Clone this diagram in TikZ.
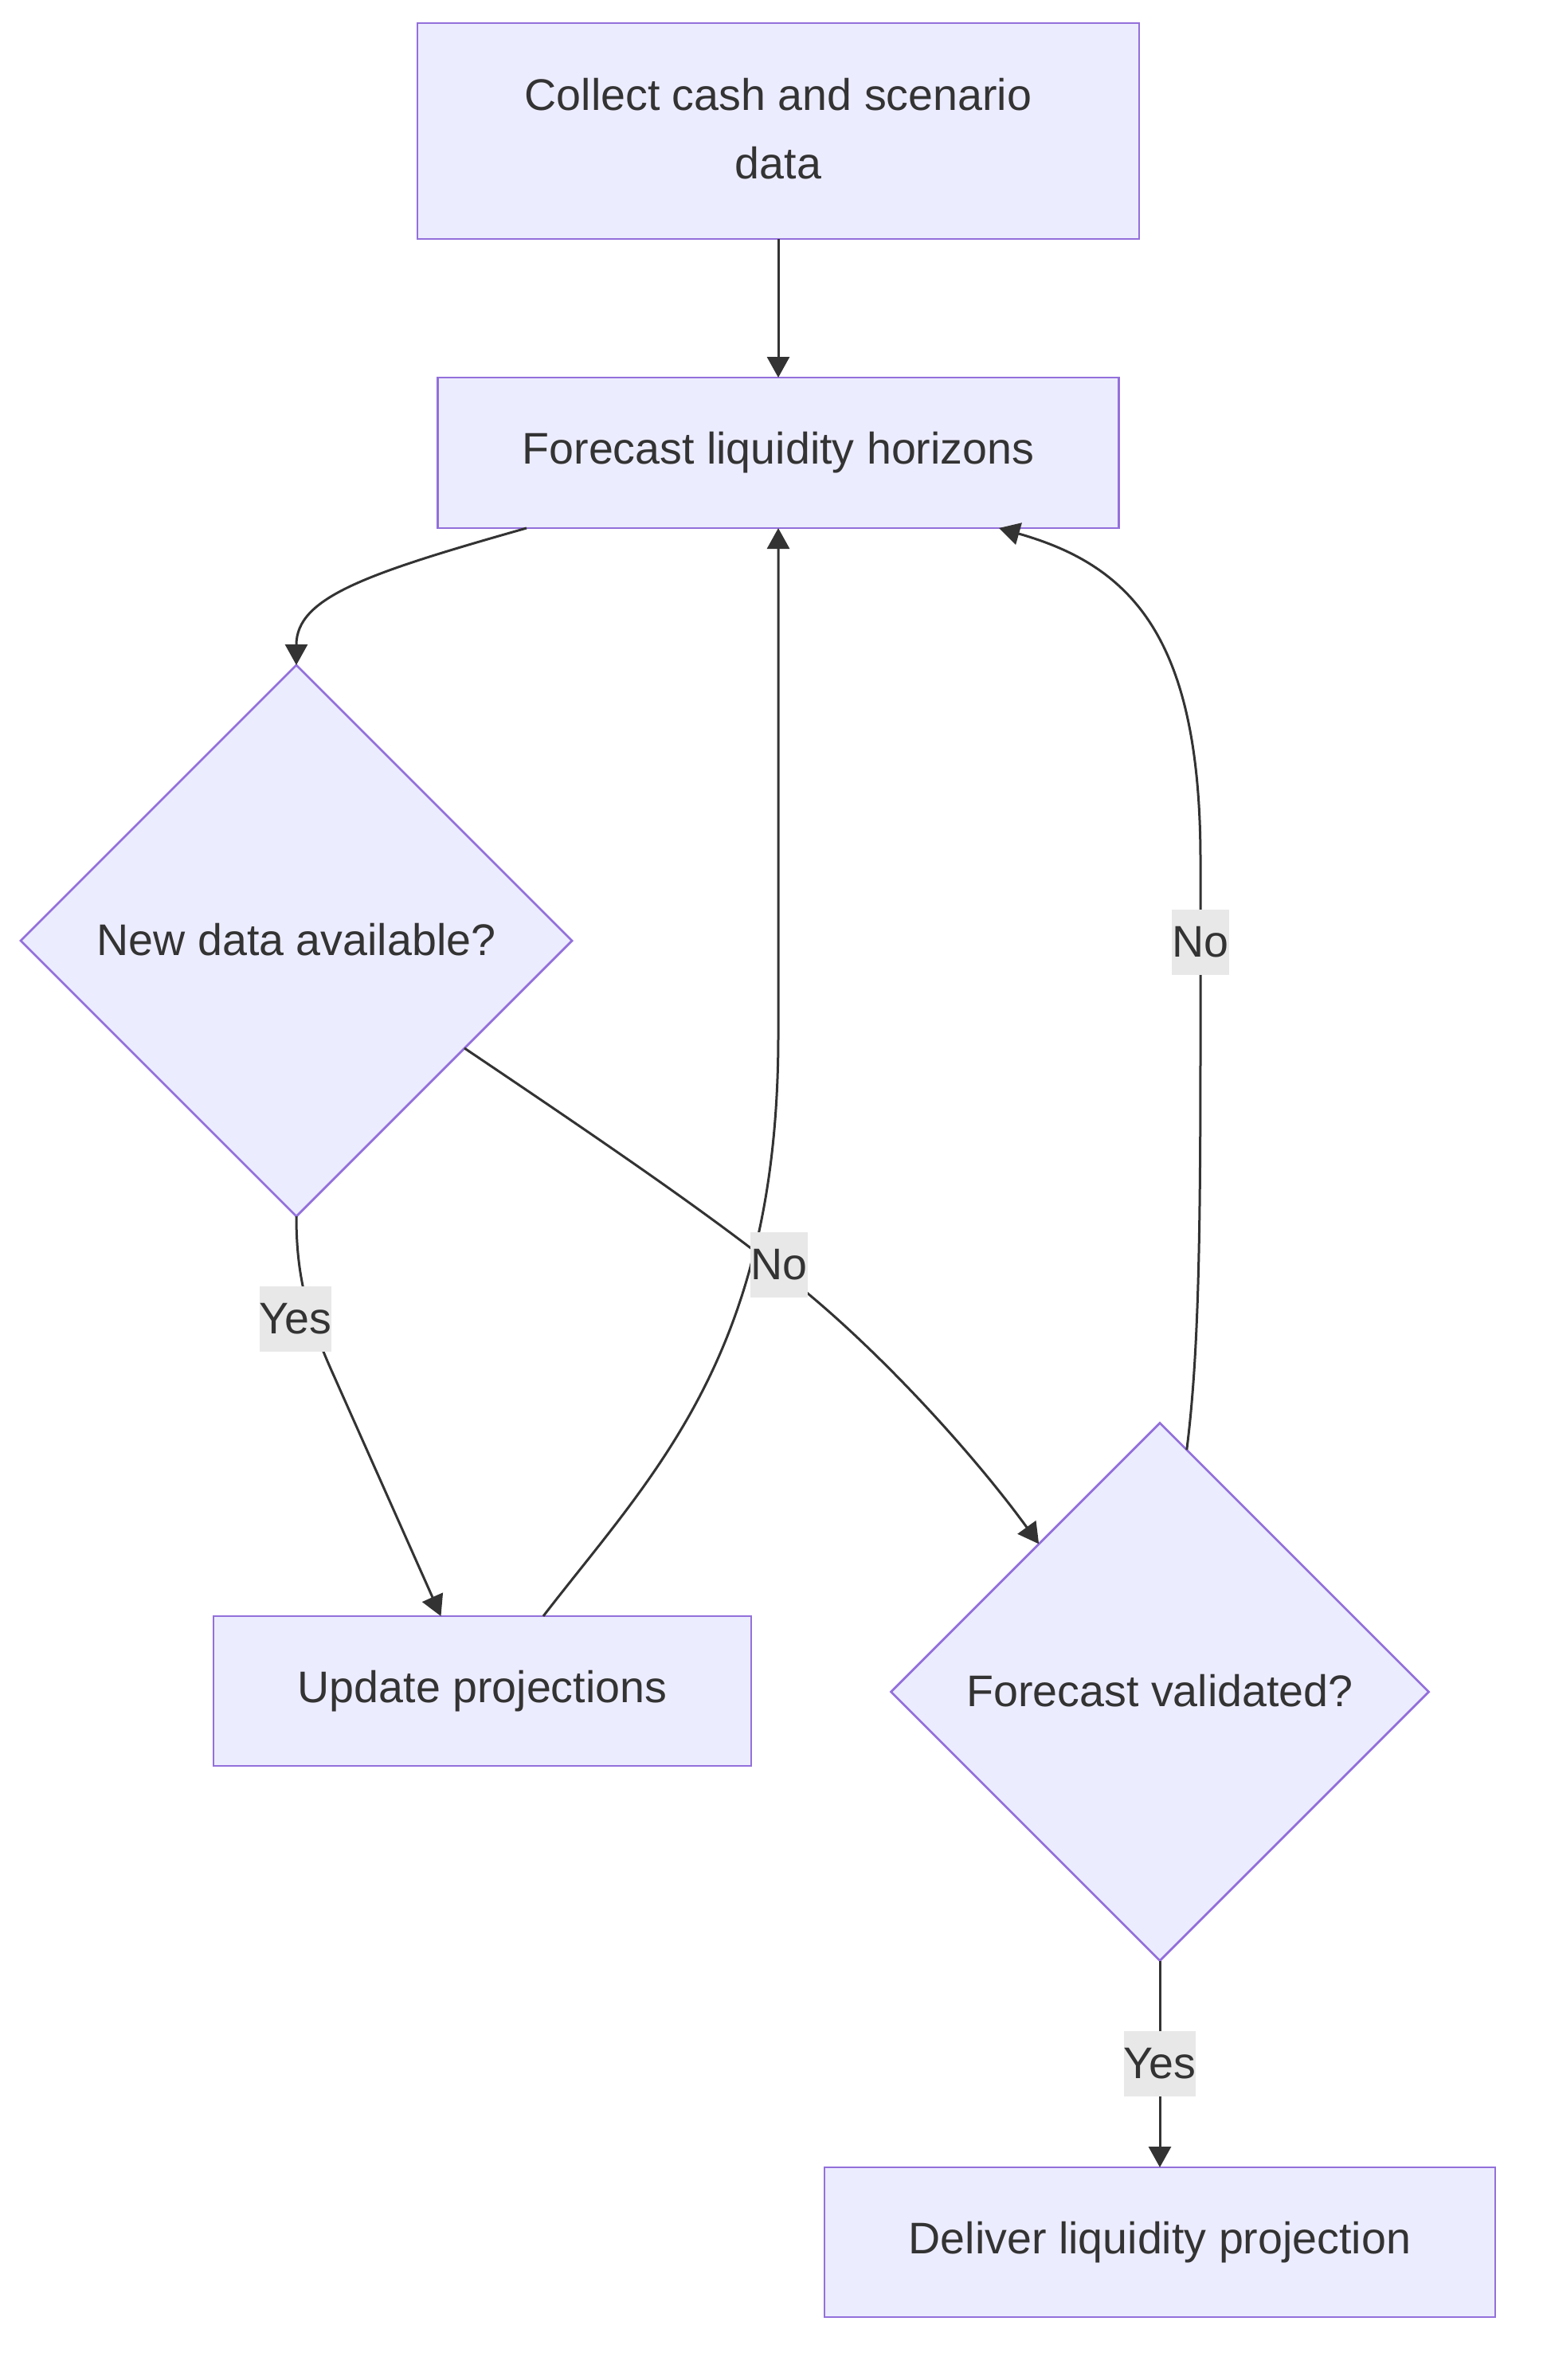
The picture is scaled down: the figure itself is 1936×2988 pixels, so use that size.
\documentclass[tikz,border=0pt]{standalone}
\usepackage{fontspec}
\setmainfont{Liberation Sans}
\usetikzlibrary{shapes.geometric,arrows.meta,calc}
\definecolor{nodefill}{HTML}{ECECFF}
\definecolor{nodeline}{HTML}{9370DB}
\definecolor{edgecol}{HTML}{333333}
\definecolor{lblfill}{HTML}{E8E8E8}
\tikzset{
  base/.style={draw=nodeline, fill=nodefill, line width=2.8pt, text=edgecol, inner sep=0pt, outer sep=0pt,
    font=\fontsize{55.6}{85}\selectfont, align=center},
  procbox/.style={base, rectangle},
  decision/.style={base, diamond, aspect=1},
  conn/.style={draw=edgecol, line width=3pt, -{Triangle[length=26pt,width=28pt]}},
  lbl/.style={fill=lblfill, text=edgecol, inner xsep=0pt, inner ysep=0pt, minimum height=82pt,
    font=\fontsize{55.6}{66}\selectfont}
}
\begin{document}
\begin{tikzpicture}[x=1pt,y=-1pt]
\useasboundingbox (0,0) rectangle (1936,2988);

\node[procbox, minimum width=906pt, minimum height=271pt] (collect) at (977,164.5) {\raisebox{5pt}{\begin{tabular}{@{}c@{}}Collect cash and scenario\\[1pt]data\end{tabular}}};
\node[procbox, minimum width=855pt, minimum height=189pt] (forecast) at (977,568.5) {Forecast liquidity horizons};
\node[decision, minimum width=692pt, minimum height=692pt] (newdata) at (372,1181) {\raisebox{3pt}{New data available?}};
\node[procbox, minimum width=675pt, minimum height=188pt] (update) at (605.5,2123) {Update projections};
\node[decision, minimum width=675pt, minimum height=675pt] (validated) at (1456,2124) {\raisebox{3pt}{Forecast validated?}};
\node[procbox, minimum width=842pt, minimum height=188pt] (deliver) at (1456,2815) {Deliver liquidity projection};

% collect -> forecast
\draw[conn] (collect.south) -- (forecast.north);
% forecast -> newdata
\draw[conn] ([xshift=-316pt]forecast.south) .. controls (460,720) and (372,750) .. (newdata.north);
% newdata -> update (Yes)
\draw[conn] (newdata.south) .. controls (372,1600) and (385,1650) .. (415,1718) -- ([xshift=-52pt]update.north);
% newdata -> validated (No)
\draw[conn] ($(newdata.east)!0.39!(newdata.south)$) .. controls (800,1462) and (950,1565) .. (1050,1655)
   .. controls (1150,1745) and (1240,1850) .. ($(validated.north)!0.45!(validated.west)$);
% update -> forecast
\draw[conn] ([xshift=76.5pt]update.north) .. controls (820,1850) and (977,1700) .. (977,1300) -- (forecast.south);
% validated -> forecast (No)
\draw[conn] ($(validated.north)!0.1!(validated.east)$) .. controls (1505,1700) and (1507,1550) .. (1507,1300)
   -- (1507,1080) .. controls (1507,800) and (1420,710) .. ([xshift=277pt]forecast.south);
% validated -> deliver (Yes)
\draw[conn] (validated.south) -- (deliver.north);

\node[lbl] (lyes1) at (371,1656) {Yes};
\node[lbl] (lno1) at (978,1588) {No};
\node[lbl] (lno2) at (1507,1183) {No};
\node[lbl] (lyes2) at (1456,2591) {Yes};
\end{tikzpicture}
\end{document}
